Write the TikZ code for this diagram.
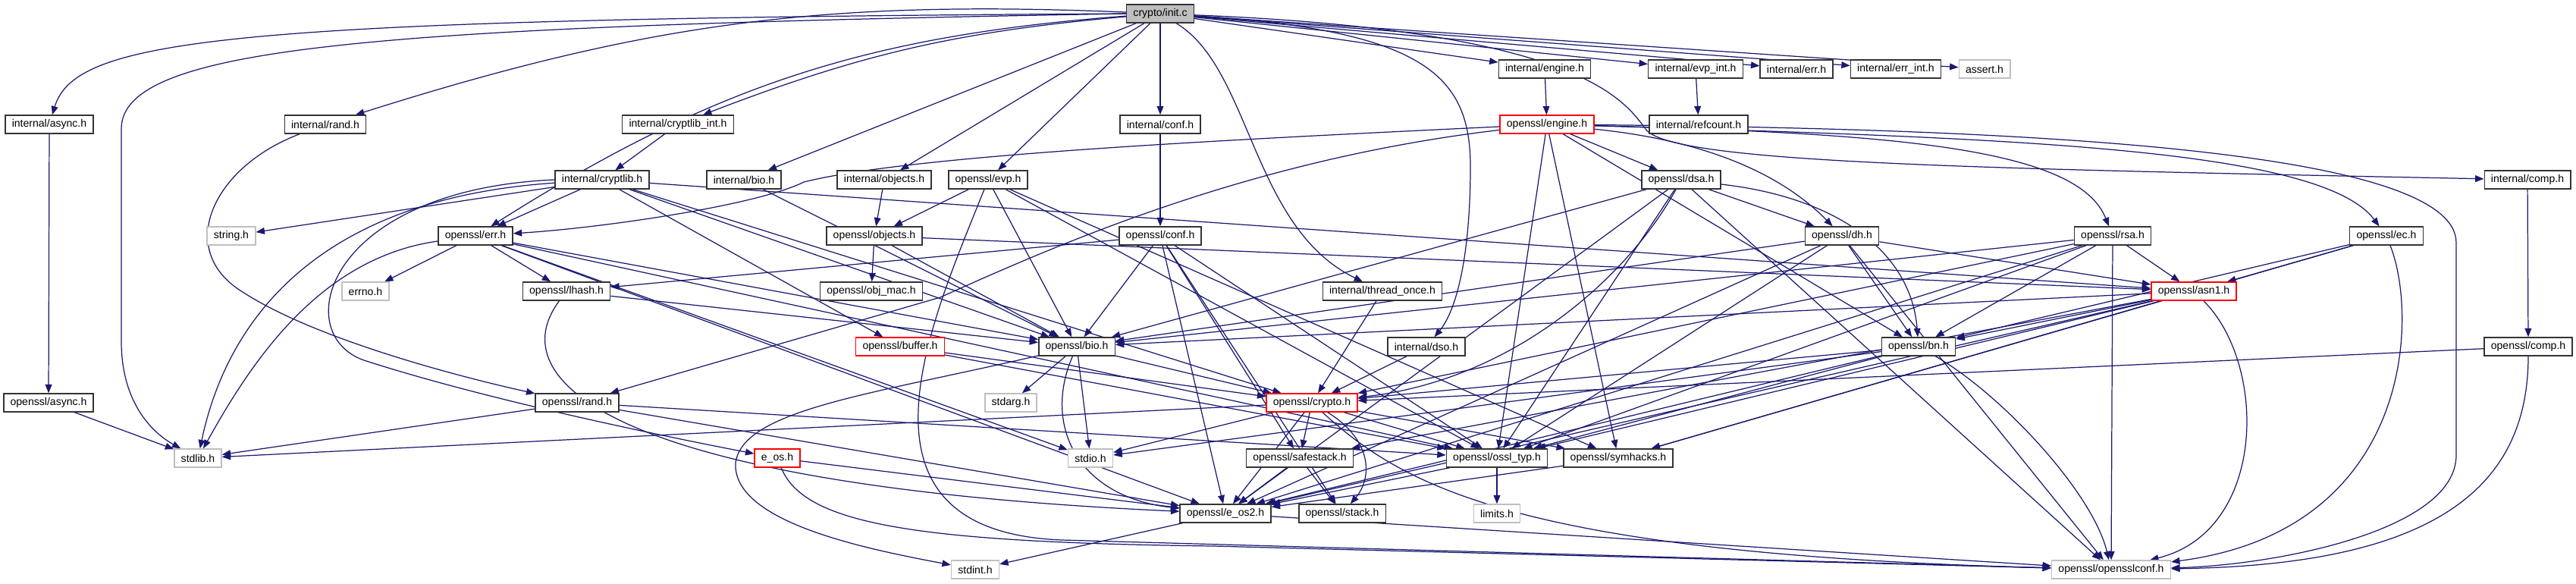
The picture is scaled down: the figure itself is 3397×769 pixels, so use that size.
\documentclass[tikz,border=0pt]{standalone}
\usepackage{fontspec}
\setmainfont{Liberation Sans}
\usetikzlibrary{arrows.meta}
\definecolor{edgeblue}{HTML}{191970}
\definecolor{boxgray}{HTML}{BFBFBF}
\pgfdeclarelayer{background}
\pgfsetlayers{background,main}

\begin{document}
\begin{tikzpicture}[
  x=0.02cm, y=-0.02cm,
  hdr/.style={draw=black!80, fill=white, line width=0.8pt, font=\fontsize{8}{9}\selectfont, inner xsep=5pt, inner ysep=0pt, minimum height=13.6pt},
  syshdr/.style={hdr, draw=boxgray},
  cuthdr/.style={hdr, draw=red},
  roothdr/.style={hdr, fill=boxgray},
  dep/.style={-{Triangle[length=6.5pt,width=5pt]}, draw=edgeblue, line width=0.7pt},
]
\useasboundingbox (0,0) rectangle (3397,769);

\node[roothdr] (init) at (1530,18) {crypto/init.c};

\node[hdr] (iengine) at (2037,91) {internal/engine.h};
\node[hdr] (ievp) at (2236,91) {internal/evp\_int.h};
\node[hdr] (ierr) at (2369,91) {internal/err.h};
\node[hdr] (ierrint) at (2500,91) {internal/err\_int.h};
\node[syshdr] (assert) at (2617,91) {assert.h};

\node[hdr] (iasync) at (65,164) {internal/async.h};
\node[hdr] (irand) at (429,164) {internal/rand.h};
\node[hdr] (icryptint) at (894,164) {internal/cryptlib\_int.h};
\node[hdr] (iconf) at (1530,164) {internal/conf.h};
\node[cuthdr] (oengine) at (2040,164) {openssl/engine.h};
\node[hdr] (irefcount) at (2240,164) {internal/refcount.h};

\node[hdr] (icryptlib) at (794,237) {internal/cryptlib.h};
\node[hdr] (ibio) at (981,237) {internal/bio.h};
\node[hdr] (iobjects) at (1166,237) {internal/objects.h};
\node[hdr] (evp) at (1303,237) {openssl/evp.h};
\node[hdr] (dsa) at (2217,237) {openssl/dsa.h};
\node[hdr] (icomp) at (3333,237) {internal/comp.h};

\node[syshdr] (strh) at (305,311) {string.h};
\node[hdr] (err) at (627,311) {openssl/err.h};
\node[hdr] (objects) at (1153,311) {openssl/objects.h};
\node[hdr] (conf) at (1530,311) {openssl/conf.h};
\node[hdr] (dh) at (2429,311) {openssl/dh.h};
\node[hdr] (rsa) at (2786,311) {openssl/rsa.h};
\node[hdr] (ec) at (3147,311) {openssl/ec.h};

\node[syshdr] (errno) at (482,384) {errno.h};
\node[hdr] (lhash) at (747,384) {openssl/lhash.h};
\node[hdr] (objmac) at (1149,384) {openssl/obj\_mac.h};
\node[hdr] (ithread) at (1823,384) {internal/thread\_once.h};
\node[cuthdr] (asn1) at (2893,384) {openssl/asn1.h};

\node[cuthdr] (buffer) at (1187,457) {openssl/buffer.h};
\node[hdr] (bio) at (1420,457) {openssl/bio.h};
\node[hdr] (idso) at (1881,457) {internal/dso.h};
\node[hdr] (bn) at (2530,457) {openssl/bn.h};
\node[hdr] (ocomp) at (3334,457) {openssl/comp.h};

\node[hdr] (oasync) at (64,531) {openssl/async.h};
\node[hdr] (orand) at (761,531) {openssl/rand.h};
\node[syshdr] (stdarg) at (1333,531) {stdarg.h};
\node[cuthdr] (crypto) at (1730,531) {openssl/crypto.h};

\node[syshdr] (stdlib) at (261,604) {stdlib.h};
\node[cuthdr] (eos) at (1025,604) {e\_os.h};
\node[syshdr] (stdio) at (1438,604) {stdio.h};
\node[hdr] (safestack) at (1714,604) {openssl/safestack.h};
\node[hdr] (osslt) at (1974,604) {openssl/ossl\_typ.h};
\node[hdr] (symhacks) at (2134,604) {openssl/symhacks.h};

\node[hdr] (eos2) at (1616,677) {openssl/e\_os2.h};
\node[hdr] (stack) at (1770,677) {openssl/stack.h};
\node[syshdr] (limits) at (1974,677) {limits.h};

\node[syshdr] (stdint) at (1286,751) {stdint.h};
\node[syshdr] (sslconf) at (2784,751) {openssl/opensslconf.h};

\begin{pgfonlayer}{background}
\draw[dep] (init.west) .. controls (300,25) and (100,50) .. (iasync);
\draw[dep] (init.west) .. controls (500,35) and (160,60) .. (160,170) -- (160,450) .. controls (160,530) and (200,570) .. (stdlib);
\draw[dep] (init) to[bend right=10] (irand);
\draw[dep] (init) to[bend right=8] (icryptint);
\draw[dep] (init) to[bend right=14] (err);
\draw[dep] (init) -- (ibio);
\draw[dep] (init) -- (iobjects);
\draw[dep] (init) -- (evp);
\draw[dep] (init) -- (iconf);
\draw[dep] (init) .. controls (1650,90) and (1650,300) .. (ithread);
\draw[dep] (init) .. controls (1880,40) and (1939,100) .. (1939,220) .. controls (1939,340) and (1920,410) .. (idso);
\draw[dep] (init) -- (iengine);
\draw[dep] (init) -- (ievp);
\draw[dep] (init) -- (ierr);
\draw[dep] (init) -- (ierrint);
\draw[dep] (init) -- (assert);
\draw[dep] (init) .. controls (2080,40) and (2140,130) .. (2170,170) .. controls (2200,215) and (2600,222) .. (icomp);

\draw[dep] (iasync) -- (oasync);
\draw[dep] (oasync) -- (stdlib);
\draw[dep] (irand) .. controls (280,220) and (230,330) .. (320,385) .. controls (420,450) and (620,500) .. (orand);
\draw[dep] (icryptint) -- (icryptlib);
\draw[dep] (iengine) -- (oengine);
\draw[dep] (ievp) -- (irefcount);
\draw[dep] (icomp) -- (ocomp);
\draw[dep] (ibio) -- (bio);
\draw[dep] (iobjects) -- (objects);
\draw[dep] (iconf) -- (conf);
\draw[dep] (ithread) -- (crypto);
\draw[dep] (idso) -- (crypto);

\draw[dep] (icryptlib) -- (strh);
\draw[dep] (icryptlib) .. controls (420,262) and (300,420) .. (stdlib);
\draw[dep] (icryptlib.west) .. controls (430,250) and (380,440) .. (480,475) .. controls (650,530) and (900,580) .. (eos);
\draw[dep] (icryptlib) -- (err);
\draw[dep] (icryptlib) -- (buffer);
\draw[dep] (icryptlib) -- (bio);
\draw[dep] (icryptlib) -- (crypto);
\draw[dep] (icryptlib) -- (asn1);

\draw[dep] (objects) -- (objmac);
\draw[dep] (objects) -- (bio);
\draw[dep] (objects) -- (asn1);

\draw[dep] (evp) -- (objects);
\draw[dep] (evp) -- (bio);
\draw[dep] (evp) -- (osslt);
\draw[dep] (evp) -- (symhacks);
\draw[dep] (evp) .. controls (1230,420) and (1100,700) .. (1400,712) -- (sslconf);

\draw[dep] (conf) -- (lhash);
\draw[dep] (conf) -- (bio);
\draw[dep] (conf) -- (eos2);
\draw[dep] (conf) -- (safestack);
\draw[dep] (conf) -- (stack);
\draw[dep] (conf) -- (osslt);

\draw[dep] (oengine) .. controls (1600,185) and (1200,205) .. (1060,240) .. controls (1000,270) and (800,300) .. (err);
\draw[dep] (oengine) .. controls (1650,210) and (1400,320) .. (1240,392) -- (orand);
\draw[dep] (oengine) -- (symhacks);
\draw[dep] (oengine) -- (dsa);
\draw[dep] (oengine) .. controls (2250,185) and (2350,230) .. (dh);
\draw[dep] (oengine) .. controls (2500,176) and (2740,195) .. (rsa);
\draw[dep] (oengine) .. controls (2650,182) and (3060,195) .. (ec);
\draw[dep] (oengine) -- (bn);
\draw[dep] (oengine) -- (osslt);
\draw[dep] (oengine) .. controls (2700,170) and (3239,200) .. (3239,320) -- (3239,600) .. controls (3239,700) and (3000,745) .. (sslconf);

\draw[dep] (dsa) -- (bio);
\draw[dep] (dsa) .. controls (2150,360) and (2000,500) .. (crypto);
\draw[dep] (dsa) -- (osslt);
\draw[dep] (dsa) -- (eos2);
\draw[dep] (dsa) .. controls (2420,260) and (2520,330) .. (bn);
\draw[dep] (dsa) -- (dh);
\draw[dep] (dsa) -- (sslconf);

\draw[dep] (dh) -- (bio);
\draw[dep] (dh) -- (asn1);
\draw[dep] (dh) -- (eos2);
\draw[dep] (dh) -- (osslt);
\draw[dep] (dh) -- (bn);
\draw[dep] (dh) -- (sslconf);

\draw[dep] (rsa) -- (asn1);
\draw[dep] (rsa) -- (bio);
\draw[dep] (rsa) -- (crypto);
\draw[dep] (rsa) -- (osslt);
\draw[dep] (rsa) -- (bn);
\draw[dep] (rsa) -- (sslconf);
\draw[dep] (rsa) -- (eos2);

\draw[dep] (ec) -- (asn1);
\draw[dep] (ec) -- (bn);
\draw[dep] (ec) -- (symhacks);
\draw[dep] (ec) .. controls (3190,420) and (3180,700) .. (sslconf);

\draw[dep] (asn1) -- (bio);
\draw[dep] (asn1) -- (bn);
\draw[dep] (asn1) -- (eos2);
\draw[dep] (asn1) -- (safestack);
\draw[dep] (asn1) -- (osslt);
\draw[dep] (asn1) -- (symhacks);
\draw[dep] (asn1) .. controls (2990,480) and (2990,700) .. (sslconf);

\draw[dep] (bn) -- (crypto);
\draw[dep] (bn) -- (stdio);
\draw[dep] (bn) -- (eos2);
\draw[dep] (bn) -- (osslt);
\draw[dep] (bn) .. controls (2640,520) and (2760,650) .. (sslconf);

\draw[dep] (ocomp) -- (crypto);
\draw[dep] (ocomp) .. controls (3334,650) and (3200,745) .. (sslconf);

\draw[dep] (err) .. controls (420,340) and (330,480) .. (stdlib);
\draw[dep] (err) -- (errno);
\draw[dep] (err) -- (lhash);
\draw[dep] (err) -- (bio);
\draw[dep] (err) -- (eos2);
\draw[dep] (err) -- (osslt);
\draw[dep] (err) -- (stdio);

\draw[dep] (lhash) -- (bio);
\draw[dep] (lhash) .. controls (660,500) and (800,640) .. (eos2);

\draw[dep] (buffer) -- (crypto);
\draw[dep] (buffer) -- (osslt);

\draw[dep] (bio) .. controls (1375,560) and (1420,655) .. (eos2);
\draw[dep] (bio) -- (stdio);
\draw[dep] (bio) -- (stdarg);
\draw[dep] (bio) -- (crypto);
\draw[dep] (bio) .. controls (1150,520) and (980,540) .. (970,610) .. controls (965,690) and (1150,725) .. (stdint);

\draw[dep] (crypto) -- (stdlib);
\draw[dep] (crypto) -- (stdio);
\draw[dep] (crypto) -- (eos2);
\draw[dep] (crypto) -- (safestack);
\draw[dep] (crypto) .. controls (1810,580) and (1810,630) .. (stack);
\draw[dep] (crypto) -- (osslt);
\draw[dep] (crypto) -- (symhacks);
\draw[dep] (crypto) .. controls (1850,640) and (2000,730) .. (sslconf);

\draw[dep] (orand) -- (stdlib);
\draw[dep] (orand) -- (osslt);
\draw[dep] (orand) -- (eos2);

\draw[dep] (safestack) -- (stack);
\draw[dep] (safestack) -- (eos2);
\draw[dep] (osslt) -- (eos2);
\draw[dep] (osslt) -- (limits);
\draw[dep] (symhacks) -- (eos2);
\draw[dep] (eos) -- (eos2);
\draw[dep] (eos) .. controls (1060,690) and (1200,715) .. (1600,720) -- (sslconf);
\draw[dep] (eos2) -- (sslconf);
\draw[dep] (eos2) -- (stdint);
\end{pgfonlayer}

\end{tikzpicture}
\end{document}
